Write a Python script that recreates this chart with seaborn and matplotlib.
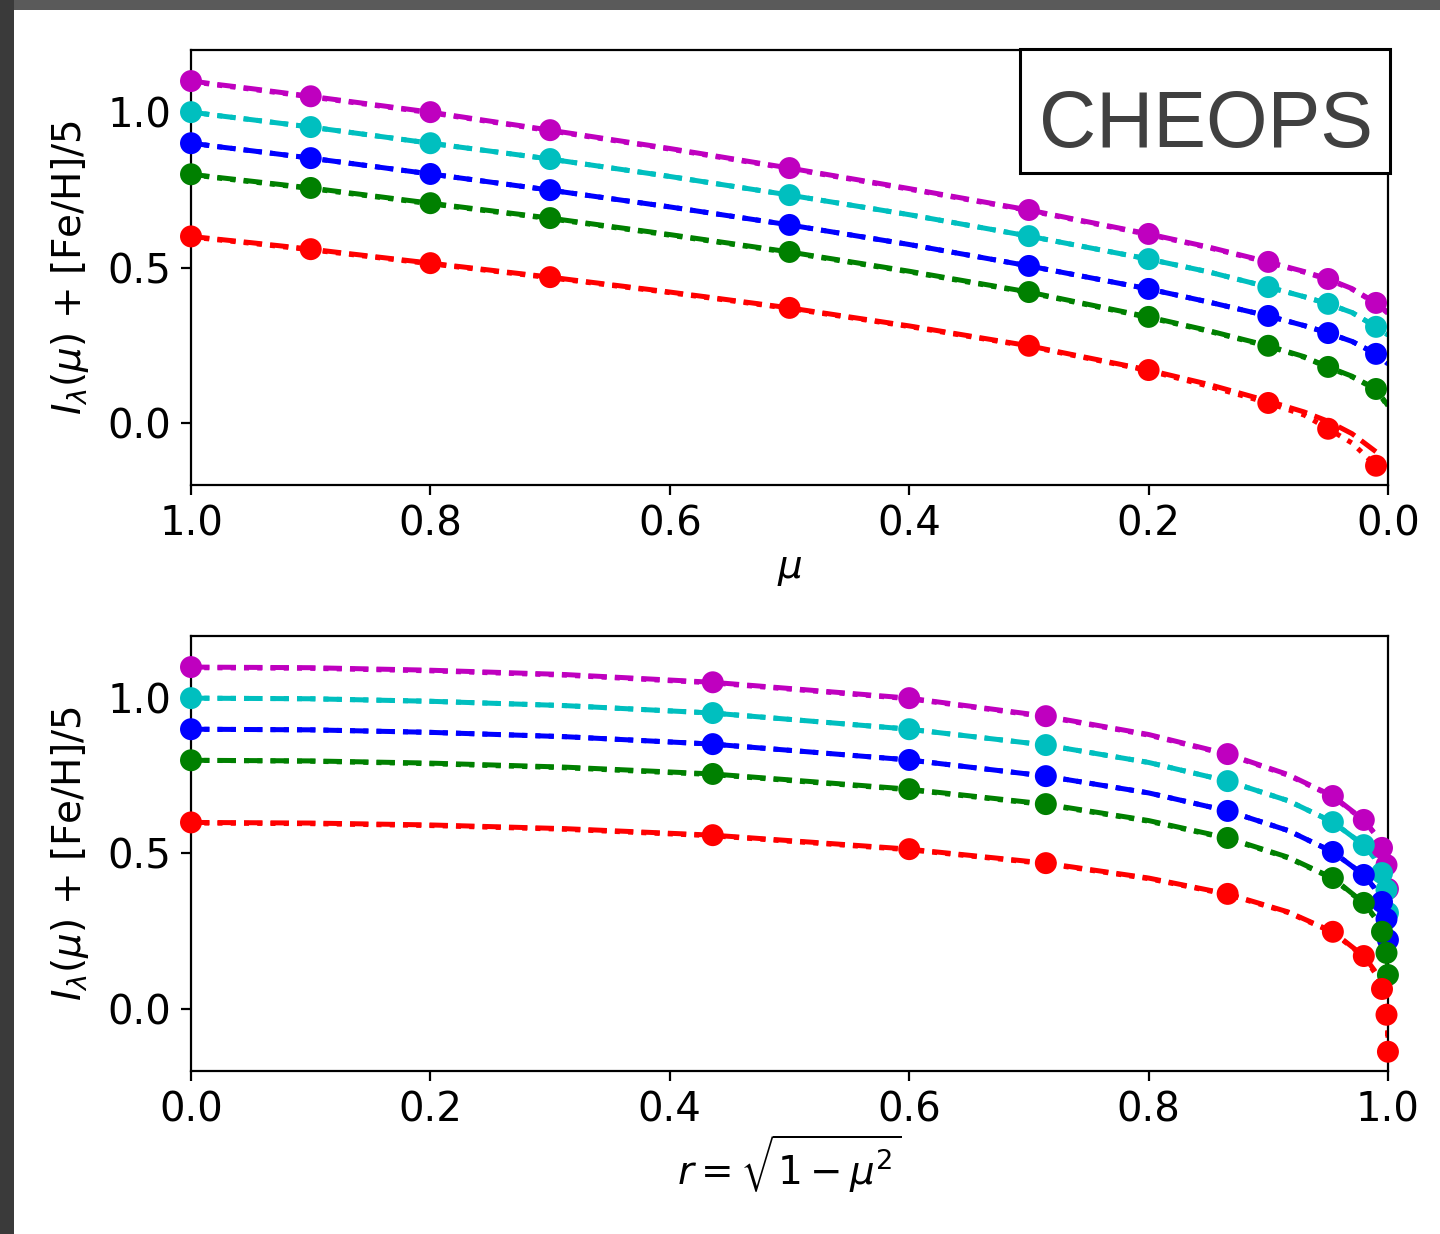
import numpy as np
import pandas as pd
import matplotlib
matplotlib.use("Agg")
import matplotlib.pyplot as plt
import seaborn as sns
from matplotlib.patches import Rectangle

# ---------------- data ----------------
series_names = ["+0.5", "0.0", "-0.5", "-1.0", "-2.0"]
series_colors = ["#bf00bf", "#00bfbf", "#0000ff", "#008000", "#ff0000"]

# sampled mu values (markers)
mu_pts = [1.0, 0.9, 0.8, 0.7, 0.5, 0.3, 0.2, 0.1, 0.05, 0.01]
pts_m = [1.100, 1.051, 1.000, 0.942, 0.820, 0.685, 0.608, 0.518, 0.463, 0.386]
pts_c = [1.000, 0.952, 0.900, 0.849, 0.733, 0.601, 0.527, 0.437, 0.383, 0.309]
pts_b = [0.900, 0.852, 0.801, 0.749, 0.637, 0.505, 0.431, 0.344, 0.289, 0.222]
pts_g = [0.800, 0.756, 0.707, 0.659, 0.550, 0.421, 0.341, 0.248, 0.180, 0.109]
pts_r = [0.600, 0.559, 0.514, 0.469, 0.370, 0.248, 0.170, 0.064, -0.019, -0.138]

# model curves
mu_line = [1.0, 0.995, 0.98, 0.95, 0.9, 0.8, 0.7, 0.6, 0.5, 0.4, 0.3, 0.2, 0.15,
           0.1, 0.07, 0.05, 0.03, 0.01, 0.0]
dash_m = [1.100, 1.098, 1.090, 1.076, 1.051, 1.000, 0.942, 0.883, 0.820, 0.754, 0.685,
          0.608, 0.566, 0.518, 0.487, 0.463, 0.432, 0.386, 0.355]
dash_c = [1.000, 0.998, 0.990, 0.976, 0.952, 0.900, 0.849, 0.793, 0.733, 0.670, 0.601,
          0.527, 0.486, 0.437, 0.406, 0.383, 0.355, 0.309, 0.283]
dash_b = [0.900, 0.898, 0.890, 0.876, 0.852, 0.801, 0.749, 0.695, 0.637, 0.574, 0.505,
          0.431, 0.389, 0.344, 0.313, 0.289, 0.262, 0.222, 0.190]
dash_g = [0.800, 0.798, 0.791, 0.778, 0.756, 0.707, 0.659, 0.606, 0.550, 0.488, 0.421,
          0.341, 0.297, 0.248, 0.213, 0.180, 0.150, 0.109, 0.055]
dash_r = [0.600, 0.598, 0.592, 0.580, 0.559, 0.514, 0.469, 0.421, 0.370, 0.312, 0.248,
          0.170, 0.124, 0.070, 0.035, 0.005, -0.035, -0.093, None]
dot_m = [1.098, 1.096, 1.088, 1.074, 1.049, 0.998, 0.940, 0.881, 0.818, 0.752, 0.683,
         0.606, 0.564, 0.516, 0.485, 0.461, 0.430, 0.384, 0.352]
dot_c = dash_c
dot_b = dash_b
dot_g = [0.800, 0.797, 0.789, 0.776, 0.754, 0.705, 0.657, 0.604, 0.548, 0.486, 0.419,
         0.339, 0.295, 0.246, 0.211, 0.178, 0.148, 0.107, 0.052]
dot_r = [0.598, 0.596, 0.590, 0.578, 0.557, 0.512, 0.467, 0.419, 0.368, 0.310, 0.246,
         0.168, 0.118, 0.064, 0.025, -0.019, -0.065, -0.138, None]

pts_all = [pts_m, pts_c, pts_b, pts_g, pts_r]
dash_all = [dash_m, dash_c, dash_b, dash_g, dash_r]
dot_all = [dot_m, dot_c, dot_b, dot_g, dot_r]

xticks_top = [1.0, 0.8, 0.6, 0.4, 0.2, 0.0]
xticks_bot = [0.0, 0.2, 0.4, 0.6, 0.8, 1.0]
yticks = [0.0, 0.5, 1.0]

# ---------------- style ----------------
sns.set_theme(style="ticks")
plt.rcParams.update({
    "font.family": ["DejaVu Sans"],
    "mathtext.fontset": "dejavusans",
    "axes.linewidth": 1.6,
    "axes.edgecolor": "black",
    "xtick.major.size": 7,
    "ytick.major.size": 7,
    "xtick.major.width": 1.6,
    "ytick.major.width": 1.6,
    "xtick.major.pad": 7,
    "ytick.major.pad": 7,
    "xtick.labelsize": 29,
    "ytick.labelsize": 29,
    "axes.labelsize": 28,
    "xtick.color": "black",
    "ytick.color": "black",
    "axes.labelcolor": "black",
    "text.color": "black",
    "lines.scale_dashes": True,
})

W, H = 1440, 1234
fig = plt.figure(figsize=(W / 100, H / 100), dpi=100, facecolor="white")

# dark frame strips (screenshot border)
fig.patches.append(Rectangle((0, 1 - 10 / H), 1, 10 / H, transform=fig.transFigure,
                             facecolor="#5a5a5a", edgecolor="none", zorder=-5))
fig.patches.append(Rectangle((0, 0), 14 / W, 1, transform=fig.transFigure,
                             facecolor="#3a3a3a", edgecolor="none", zorder=-5))

left, width = 191 / W, 1197 / W
ax1 = fig.add_axes([left, 1 - 485 / H, width, 435 / H])
ax2 = fig.add_axes([left, 1 - 1071 / H, width, 435 / H])

LW = 3.6
for ax, is_r in ((ax1, False), (ax2, True)):
    for name, col, pts, dsh, dot in zip(series_names, series_colors, pts_all, dash_all, dot_all):
        mu_l = np.array(mu_line, dtype=float)
        d = np.array([np.nan if v is None else v for v in dsh], dtype=float)
        o = np.array([np.nan if v is None else v for v in dot], dtype=float)
        xl = np.sqrt(1 - mu_l ** 2) if is_r else mu_l
        mask = ~np.isnan(d)
        sns.lineplot(x=xl[mask], y=d[mask], color=col, linestyle="--", linewidth=LW,
                     sort=False, estimator=None, ax=ax, zorder=2)
        mask2 = ~np.isnan(o)
        sns.lineplot(x=xl[mask2], y=o[mask2], color=col, linestyle=":", linewidth=LW,
                     sort=False, estimator=None, ax=ax, zorder=2)
        mp = np.array(mu_pts)
        xp = np.sqrt(1 - mp ** 2) if is_r else mp
        sns.scatterplot(x=xp, y=pts, color=col, s=250, edgecolor="none",
                        linewidth=0, ax=ax, zorder=3, clip_on=False)
    ax.set_ylim(-0.2, 1.2)
    ax.set_yticks(yticks)
    ax.set_yticklabels([f"{v:.1f}" for v in yticks])
    ax.set_ylabel(r"$I_\lambda(\mu)$ + [Fe/H]/5", labelpad=12)
    for s in ax.spines.values():
        s.set_visible(True)
        s.set_linewidth(1.6)

ax1.set_xlim(1.0, 0.0)
ax1.set_xticks(xticks_top)
ax1.set_xticklabels([f"{v:.1f}" for v in xticks_top])
ax1.set_xlabel(r"$\mu$", labelpad=4)

ax2.set_xlim(0.0, 1.0)
ax2.set_xticks(xticks_bot)
ax2.set_xticklabels([f"{v:.1f}" for v in xticks_bot])
ax2.set_xlabel(r"$r = \sqrt{1-\mu^2}$", labelpad=2)

# CHEOPS label box
fig.patches.append(Rectangle((1020 / W, 1 - 173 / H), 370 / W, 124 / H,
                             transform=fig.transFigure, facecolor="white",
                             edgecolor="black", linewidth=2.2, zorder=10))
fig.text(1206 / W, 1 - 147 / H, "CHEOPS", ha="center", va="baseline",
         fontsize=57, color="#404040", family=["Liberation Sans", "DejaVu Sans"],
         zorder=11)

fig.savefig("out.png", dpi=100, facecolor="white")
